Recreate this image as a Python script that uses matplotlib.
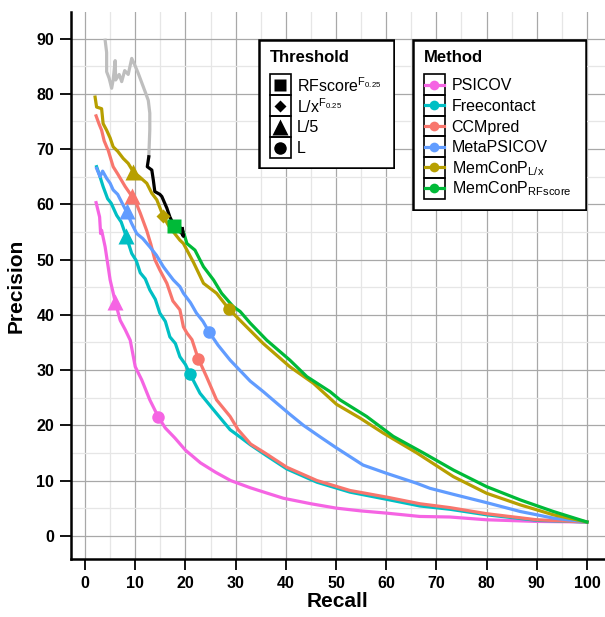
import matplotlib
matplotlib.use("Agg")
import matplotlib.pyplot as plt
from matplotlib.patches import Rectangle

plt.rcParams['font.family'] = ['Liberation Sans', 'DejaVu Sans']
plt.rcParams['mathtext.fontset'] = 'custom'
plt.rcParams['mathtext.rm'] = 'Liberation Sans'
plt.rcParams['mathtext.it'] = 'Liberation Sans'

# ---- data ----
methods = ['PSICOV', 'Freecontact', 'CCMpred', 'MetaPSICOV', 'MemConP_L/x', 'MemConP_RFscore']
labels = ['PSICOV', 'Freecontact', 'CCMpred', 'MetaPSICOV',
          r'MemConP$_{\mathrm{L/x}}$', r'MemConP$_{\mathrm{RFscore}}$']
colors = ['#F564E3', '#00BFC4', '#F8766D', '#619CFF', '#B79F00', '#00BA38']

psicov_r = [2.2, 2.9, 3.1, 3.3, 4.0, 5.0, 6.0, 7.0, 8.0, 9.0, 10.0, 11.3, 12.9, 14.6, 16.0, 17.9,
            20.0, 23.0, 26.0, 29.0, 32.9, 36.0, 39.5, 45.0, 50.1, 55.0, 60.1, 66.7, 72.7, 80.0, 90.0, 100.0]
psicov_p = [60.3, 57.7, 54.7, 55.3, 52.3, 46.3, 42.4, 39.0, 37.3, 35.4, 30.6, 28.2, 24.6, 21.5, 19.5, 17.7,
            15.5, 13.2, 11.5, 10.0, 8.7, 7.8, 6.8, 5.8, 5.0, 4.5, 4.1, 3.5, 3.4, 2.9, 2.6, 2.5]

freecontact_r = [2.3, 2.8, 3.6, 4.5, 5.2, 6.3, 7.2, 8.2, 9.3, 10.2, 11.0, 12.0, 12.9, 14.0, 14.9, 16.0,
                 16.9, 18.0, 18.9, 20.0, 20.9, 22.9, 25.6, 28.9, 31.0, 32.9, 36.0, 40.2, 46.2, 52.8,
                 60.1, 66.7, 72.7, 80.0, 90.0, 100.0]
freecontact_p = [66.8, 65.5, 63.2, 61.0, 60.2, 58.0, 56.8, 54.2, 51.1, 49.8, 47.6, 46.5, 44.5, 42.8, 40.3, 38.8,
                 36.0, 34.8, 32.4, 31.0, 29.3, 25.8, 22.8, 19.2, 17.8, 16.5, 14.6, 12.1, 9.7, 7.9,
                 6.6, 5.4, 4.8, 3.8, 2.8, 2.5]

ccmpred_r = [2.2, 2.8, 3.3, 3.8, 4.3, 4.6, 5.6, 6.5, 8.0, 9.3, 10.2, 11.0, 12.3, 13.1, 13.9, 14.9, 16.3,
             17.5, 18.9, 19.6, 20.3, 21.3, 22.2, 22.6, 24.2, 26.2, 28.9, 30.5, 33.0, 36.0, 40.2, 46.2,
             52.8, 60.1, 66.7, 72.7, 80.0, 90.0, 100.0]
ccmpred_p = [76.0, 74.5, 73.4, 71.5, 70.4, 69.8, 66.8, 65.5, 63.2, 61.5, 60.2, 58.4, 55.2, 52.8, 50.0, 48.1, 45.7,
             42.5, 40.9, 37.8, 36.7, 35.5, 33.0, 32.0, 28.8, 24.6, 21.6, 19.2, 16.6, 14.9, 12.4, 10.0,
             8.2, 7.0, 5.8, 5.1, 4.0, 2.9, 2.5]

metapsicov_r = [2.3, 3.0, 3.5, 4.3, 5.0, 5.6, 6.5, 7.4, 8.3, 9.3, 10.3, 11.5, 12.9, 14.2, 15.6, 16.5, 17.6,
                18.9, 19.6, 21.0, 22.2, 23.5, 24.7, 26.5, 28.9, 32.9, 35.5, 38.2, 40.8, 43.5, 47.0,
                50.1, 55.4, 60.1, 66.1, 68.7, 73.4, 80.0, 86.7, 93.3, 100.0]
metapsicov_p = [66.5, 65.0, 66.0, 64.7, 63.8, 62.6, 61.8, 60.2, 58.6, 56.5, 54.7, 53.8, 52.3, 50.8, 48.7, 47.6, 46.3,
                45.1, 43.9, 42.2, 40.3, 38.8, 36.9, 34.5, 31.8, 28.0, 26.1, 24.0, 22.0, 20.0, 17.8,
                15.9, 12.8, 11.3, 9.5, 8.6, 7.5, 6.0, 4.4, 3.2, 2.5]

memconp_lx_r = [2.0, 2.3, 3.3, 3.6, 4.3, 5.0, 5.6, 6.5, 7.6, 8.6, 9.6, 10.8, 12.3, 13.3, 14.3, 15.6, 16.6,
                17.6, 18.9, 19.6, 21.6, 23.6, 26.2, 28.7, 32.2, 35.5, 40.8, 45.5, 50.1, 54.8, 59.4,
                66.1, 73.4, 80.0, 86.7, 93.3, 100.0]
memconp_lx_p = [79.4, 77.6, 77.3, 74.6, 73.4, 72.0, 70.4, 69.6, 68.3, 67.4, 65.9, 65.0, 63.8, 62.0, 60.8, 57.8, 56.2,
                55.0, 53.5, 52.9, 49.5, 45.7, 43.9, 41.0, 37.8, 34.8, 30.6, 27.6, 23.8, 21.3, 18.6,
                15.0, 10.7, 7.7, 5.6, 3.8, 2.5]

memconp_rf_r = [17.7, 19.0, 19.6, 20.3, 21.9, 23.6, 25.6, 27.2, 29.5, 30.9, 32.9, 36.2, 40.8, 44.2, 48.8,
                50.8, 56.1, 61.4, 67.4, 73.4, 80.0, 86.7, 93.3, 100.0]
memconp_rf_p = [56.1, 55.8, 55.0, 52.9, 51.7, 48.7, 46.3, 43.9, 41.5, 40.6, 38.5, 35.4, 31.8, 28.8, 26.1,
                24.6, 21.6, 18.0, 15.0, 11.9, 8.9, 6.5, 4.4, 2.5]

# RFscore curve beyond the F0.25 threshold (grey) and the part down to it (black)
grey_r = [4.0, 4.3, 4.3, 4.8, 5.3, 5.6, 6.0, 6.1, 6.8, 7.3, 7.9, 8.6, 9.3, 10.0, 10.6, 11.3, 12.0, 12.6,
          12.9, 12.9, 12.8, 12.7]
grey_p = [89.7, 87.5, 84.0, 82.8, 81.0, 82.5, 86.0, 82.5, 83.5, 82.2, 84.2, 83.5, 86.4, 85.0, 83.7, 82.0, 80.3,
          78.8, 76.5, 73.5, 71.0, 68.6]
black_r = [12.7, 12.4, 13.3, 13.6, 13.9, 14.9, 15.3, 16.3, 16.9, 17.9, 19.3, 19.6, 19.4]
black_p = [68.6, 66.8, 66.2, 64.4, 62.3, 61.8, 61.4, 59.3, 57.7, 55.9, 54.7, 54.2, 55.6]

# threshold markers: (method index, recall, precision)
tri_idx = [0, 1, 2, 3, 4]
tri_r = [6.0, 8.2, 9.3, 8.3, 9.6]
tri_p = [42.4, 54.2, 61.5, 58.8, 65.9]
circ_idx = [0, 1, 2, 3, 4]
circ_r = [14.6, 20.9, 22.6, 24.7, 28.7]
circ_p = [21.5, 29.3, 32.0, 36.9, 41.0]
diam_r, diam_p = [15.6], [57.9]
sq_r, sq_p = [17.7], [56.1]

curves = [(psicov_r, psicov_p), (freecontact_r, freecontact_p), (ccmpred_r, ccmpred_p),
          (metapsicov_r, metapsicov_p), (memconp_lx_r, memconp_lx_p), (memconp_rf_r, memconp_rf_p)]

W, H = 605, 617
fig = plt.figure(figsize=(W / 100, H / 100), dpi=100)
ax = fig.add_axes([71 / W, (H - 559) / H, (W - 71) / W, (559 - 12) / H])

lw = 2.3
ax.plot(grey_r, grey_p, color='#BEBEBE', lw=lw, zorder=3)
for (r, p), c in zip(curves, colors):
    ax.plot(r, p, color=c, lw=lw, zorder=3)
ax.plot(black_r, black_p, color='black', lw=lw, zorder=4)

for i, r, p in zip(tri_idx, tri_r, tri_p):
    ax.plot(r, p, marker='^', ms=11, color=colors[i], mec='none', zorder=5)
for i, r, p in zip(circ_idx, circ_r, circ_p):
    ax.plot(r, p, marker='o', ms=9, color=colors[i], mec='none', zorder=5)
ax.plot(diam_r, diam_p, marker='D', ms=7, color=colors[4], mec='none', lw=0, zorder=5)
ax.plot(sq_r, sq_p, marker='s', ms=9.5, color=colors[5], mec='none', lw=0, zorder=5)

ax.set_xlim(-2.8, 103.6)
ax.set_ylim(-4.2, 94.8)
ax.set_xticks(range(0, 101, 10))
ax.set_yticks(range(0, 91, 10))
ax.set_xticks(range(5, 101, 10), minor=True)
ax.set_yticks(range(5, 91, 10), minor=True)
ax.grid(which='major', color='#A8A8A8', lw=0.9, zorder=0)
ax.grid(which='minor', color='#E6E6E6', lw=0.9, zorder=0)
ax.set_axisbelow(True)
for s in ['top', 'right']:
    ax.spines[s].set_visible(False)
for s in ['left', 'bottom']:
    ax.spines[s].set_linewidth(1.8)
ax.tick_params(which='major', length=8, width=1.3, labelsize=11.5, pad=4)
ax.tick_params(which='minor', length=0)
for t in ax.get_xticklabels() + ax.get_yticklabels():
    t.set_fontweight('bold')
ax.set_xlabel('Recall', fontsize=15, fontweight='bold', labelpad=1)
ax.set_ylabel('Precision', fontsize=15, fontweight='bold', labelpad=8)


def legend_axes(x0, y0, x1, y1):
    la = fig.add_axes([x0 / W, 1 - y1 / H, (x1 - x0) / W, (y1 - y0) / H])
    la.set_xlim(x0, x1)
    la.set_ylim(y1, y0)
    la.axis('off')
    la.add_patch(Rectangle((x0 + 1, y0 + 1), x1 - x0 - 2, y1 - y0 - 2, fill=True, fc='white',
                           ec='black', lw=1.8, zorder=0))
    return la


# Threshold legend
th = legend_axes(258, 39, 395, 169)
th.text(270, 57, 'Threshold', fontsize=12, fontweight='bold', va='center', ha='left')
th_labels = [r'RFscore$^{\mathrm{F}_{\mathrm{0.25}}}$', r'L/x$^{\mathrm{F}_{\mathrm{0.25}}}$', 'L/5', 'L']
th_marks = [('s', 9), ('D', 6.5), ('^', 11), ('o', 9)]
row_h = 21
for k, (lab, (m, s)) in enumerate(zip(th_labels, th_marks)):
    top = 74 + k * row_h
    th.add_patch(Rectangle((269.5, top), 21.5, row_h, fill=False, ec='black', lw=1.2))
    th.plot(280.2, top + row_h / 2, marker=m, ms=s, color='black', mec='none')
    th.text(297, top + row_h / 2 + 1, lab, fontsize=11.5, va='center', ha='left')

# Method legend
me = legend_axes(412, 39, 587, 211)
me.text(424, 57, 'Method', fontsize=12, fontweight='bold', va='center', ha='left')
row_h = 20.7
for k, (lab, c) in enumerate(zip(labels, colors)):
    top = 74.3 + k * row_h
    me.add_patch(Rectangle((423.5, top), 21.5, row_h, fill=False, ec='black', lw=1.2))
    me.plot([425, 443.5], [top + row_h / 2] * 2, color=c, lw=lw)
    me.plot(434.2, top + row_h / 2, marker='o', ms=7, color=c, mec='none')
    me.text(451.5, top + row_h / 2 + 1, lab, fontsize=11.5, va='center', ha='left')

fig.savefig('out.png', dpi=100)
